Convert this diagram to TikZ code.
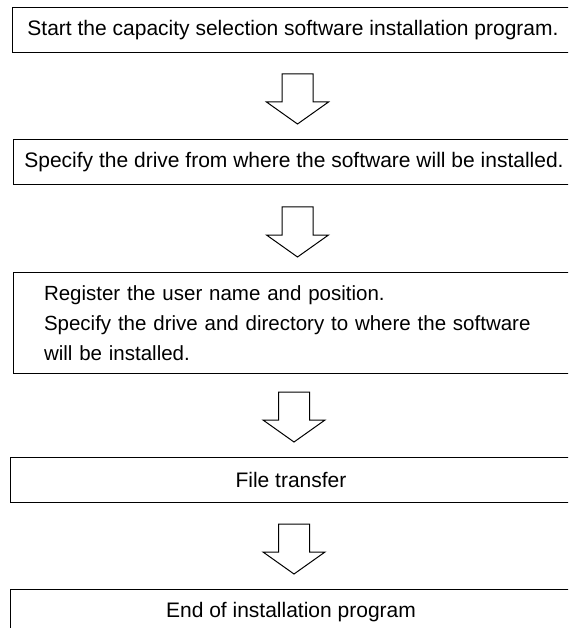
\documentclass[tikz,border=0pt]{standalone}
\usepackage{fontspec}
\setmainfont{Liberation Sans}

\begin{document}
\begin{tikzpicture}[x=1pt, y=-1pt]
    \tikzset{
        stepbox/.style={draw, line width=1pt, rectangle, anchor=north west,
            minimum width=561pt, minimum height=45pt, inner sep=0pt,
            font=\fontsize{21pt}{30pt}\selectfont},
        downarrow/.pic={
            \draw[line width=1pt, fill=white] (-15.5,0) -- (-15.5,28) -- (-31,28)
                -- (0,50) -- (31,28) -- (15.5,28) -- (15.5,0) -- cycle;
        },
    }
    \useasboundingbox (0,0) rectangle (568,628);
    \clip (0,0) rectangle (568,628);

    \node[stepbox] (start) at (12,7) {Start the capacity selection software installation program.};
    \node[stepbox] (source) at (13,139) {Specify the drive from where the software will be installed.};
    \node[stepbox, minimum height=101pt, text width=500pt, inner xsep=30pt, align=left,
        font=\fontsize{20.5pt}{30pt}\selectfont] (target) at (13,272)
        {Register the user name and position.\\
         Specify the drive and directory to where the software\\
         will be installed.};
    \node[stepbox] (transfer) at (10,457) {File transfer};
    \node[stepbox] (finish) at (10,589) {End of installation program};

    \pic (arrA) at (297.5,74) {downarrow};
    \pic (arrB) at (297.5,207) {downarrow};
    \pic (arrC) at (294,392) {downarrow};
    \pic (arrD) at (294,524) {downarrow};
\end{tikzpicture}
\end{document}
